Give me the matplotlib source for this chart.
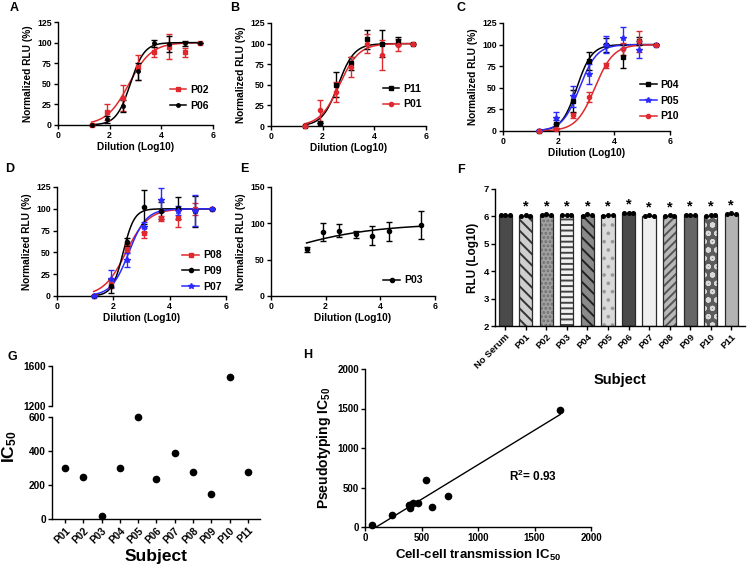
import numpy as np
import matplotlib
matplotlib.use("Agg")
import matplotlib.pyplot as plt
from matplotlib.lines import Line2D

plt.rcParams["font.family"] = ["Liberation Sans", "DejaVu Sans"]
plt.rcParams["font.weight"] = "bold"
plt.rcParams["axes.labelweight"] = "bold"
plt.rcParams["mathtext.fontset"] = "custom"
plt.rcParams["mathtext.rm"] = "Liberation Sans:bold"
plt.rcParams["mathtext.default"] = "rm"
plt.rcParams["hatch.linewidth"] = 1.4

RED = "#e0292e"
BLUE = "#2a2aff"
BLACK = "black"

# dilution steps (log10)
dil = [1.3, 1.9, 2.5, 3.1, 3.7, 4.3, 4.9, 5.5]

# A
p02_y = [0, 16, 33, 70, 89, 95, 88, 100]
p02_err = [0, 10, 16, 15, 6, 15, 6, 0]
p02_fit = (2.75, 1.0)
p06_y = [0, 7, 23, 65, 99, 98, 99, 100]
p06_err = [0, 4, 7, 10, 4, 10, 3, 0]
p06_fit = (2.8, 1.6)
# B
p11_y = [0, 4, 50, 76, 105, 100, 103, 100]
p11_err = [0, 0, 15, 8, 12, 16, 5, 0]
p11_fit = (2.6, 1.4)
p01_y = [0, 19, 41, 72, 100, 86, 98, 100]
p01_err = [0, 13, 12, 12, 12, 18, 7, 0]
p01_fit = (2.65, 1.15)
# C
p04_y = [0, 8, 35, 81, 100, 86, 104, 100]
p04_err = [0, 5, 13, 10, 8, 13, 5, 0]
p04_fit = (2.65, 1.6)
p05_y = [0, 15, 40, 66, 100, 108, 94, 100]
p05_err = [0, 7, 12, 12, 10, 12, 10, 0]
p05_fit = (2.75, 1.4)
p10_y = [0, 2, 18, 39, 76, 95, 104, 100]
p10_err = [0, 1, 3, 6, 3, 7, 12, 0]
p10_fit = (3.3, 1.3)
# D
p08_y = [0, 14, 54, 72, 89, 89, 100, 100]
p08_err = [0, 5, 4, 6, 3, 10, 7, 0]
p08_fit = (2.45, 1.1)
p09_y = [0, 12, 62, 102, 98, 101, 97, 100]
p09_err = [0, 8, 5, 19, 10, 13, 18, 0]
p09_fit = (2.35, 2.2)
p07_y = [0, 20, 41, 79, 110, 98, 98, 100]
p07_err = [0, 10, 8, 6, 14, 5, 18, 0]
p07_fit = (2.55, 1.4)
# E
p03_x = [1.3, 1.9, 2.5, 3.1, 3.7, 4.3, 5.5]
p03_y = [64, 88, 90, 85, 83, 89, 98]
p03_err = [3, 13, 9, 5, 13, 13, 19]
p03_fit = (-0.61, 0.226)

# F
f_labels = ["No Serum", "P01", "P02", "P03", "P04", "P05", "P06", "P07", "P08", "P09", "P10", "P11"]
f_reps = [[6.05, 6.06, 6.05], [6.02, 6.05, 6.02], [6.04, 6.08, 6.05], [6.05, 6.05, 6.05],
          [6.03, 6.08, 6.04], [6.01, 6.05, 6.04], [6.12, 6.13, 6.12], [6.0, 6.04, 6.01],
          [6.0, 6.06, 6.01], [6.05, 6.05, 6.05], [6.01, 6.04, 6.04], [6.08, 6.12, 6.08]]
f_star = [False] + [True] * 11

# G / H
subjects = ["P01", "P02", "P03", "P04", "P05", "P06", "P07", "P08", "P09", "P10", "P11"]
pseudo_ic50 = [299, 248, 20, 299, 598, 238, 390, 276, 146, 1487, 278]
cellcell_ic50 = [426, 595, 60, 470, 542, 399, 732, 393, 241, 1727, 400]

W, H = 747, 570
fig = plt.figure(figsize=(W / 100, H / 100), dpi=100)


def add_ax(l, t, r, b):
    return fig.add_axes([l / W, 1 - b / H, (r - l) / W, (b - t) / H])


def style(ax, size=6):
    ax.spines["top"].set_visible(False)
    ax.spines["right"].set_visible(False)
    for s in ("left", "bottom"):
        ax.spines[s].set_linewidth(1)
    ax.tick_params(width=1, length=3, labelsize=size, pad=1.5)


def sigmoid(x, logic, hill):
    return 100 / (1 + 10 ** ((logic - x) * hill))


def curve_panel(ax, series, ymax, yticks, leg_anchor):
    xs = np.linspace(1.3, 5.5, 200)
    handles = []
    for label, color, marker, ms, x, y, err, fit in series:
        ax.plot(xs, sigmoid(xs, *fit), color=color, lw=1.1)
        ax.errorbar(x, y, yerr=err, fmt=marker, color=color, ms=ms, capsize=2,
                    elinewidth=1, capthick=1, clip_on=False, zorder=3)
        handles.append(Line2D([], [], color=color, marker=marker, ms=ms, lw=1.1, label=label))
    ax.set_xlim(0, 6)
    ax.set_ylim(0, ymax)
    ax.set_xticks([0, 2, 4, 6])
    ax.set_yticks(yticks)
    style(ax, 6.3)
    ax.set_xlabel("Dilution (Log10)", fontsize=7.3, labelpad=1)
    ax.set_ylabel("Normalized RLU (%)", fontsize=7.3, labelpad=3)
    ax.legend(handles=handles, loc="lower right", bbox_to_anchor=leg_anchor, frameon=False,
              fontsize=7.5, handlelength=1.6, handletextpad=0.4, labelspacing=0.55,
              borderaxespad=0)


yt125 = [0, 25, 50, 75, 100, 125]

ax_a = add_ax(58, 22, 213, 125)
curve_panel(ax_a, [("P02", RED, "s", 3.5, dil, p02_y, p02_err, p02_fit),
                   ("P06", BLACK, "o", 2.5, dil, p06_y, p06_err, p06_fit)],
            125, yt125, (1.0, 0.1))

ax_b = add_ax(271, 23, 426, 126)
curve_panel(ax_b, [("P11", BLACK, "s", 3.5, dil, p11_y, p11_err, p11_fit),
                   ("P01", RED, "o", 3, dil, p01_y, p01_err, p01_fit)],
            125, yt125, (1.0, 0.12))

ax_c = add_ax(503, 23, 670, 131)
curve_panel(ax_c, [("P04", BLACK, "s", 3.5, dil, p04_y, p04_err, p04_fit),
                   ("P05", BLUE, "*", 4, dil, p05_y, p05_err, p05_fit),
                   ("P10", RED, "o", 3, dil, p10_y, p10_err, p10_fit)],
            125, yt125, (1.08, 0.05))

ax_d = add_ax(57, 187, 226, 296)
curve_panel(ax_d, [("P08", RED, "s", 3.5, dil, p08_y, p08_err, p08_fit),
                   ("P09", BLACK, "o", 3, dil, p09_y, p09_err, p09_fit),
                   ("P07", BLUE, "*", 4, dil, p07_y, p07_err, p07_fit)],
            125, yt125, (1.0, 0.0))

ax_e = add_ax(271, 187, 435, 296)
curve_panel(ax_e, [("P03", BLACK, "o", 3, p03_x, p03_y, p03_err, p03_fit)],
            150, [0, 50, 100, 150], (0.95, 0.06))

# F bar chart
ax_f = add_ax(495, 189, 745, 326)
f_fc = ["#4a4a4a", "#cfcfcf", "#a2a2a2", "#f0f0f0", "#8a8a8a", "#dadada",
        "#4a4a4a", "#efefef", "#b8b8b8", "#666666", "#5c5c5c", "#b3b3b3"]
f_hatch = ["", "\\\\\\", "....", "---", "\\\\\\", "..", "", "", "////", "", "oo", ""]
f_hc = ["#4a4a4a", "#333333", "#707070", "#444444", "#222222", "#999999",
        "#4a4a4a", "#efefef", "#555555", "#666666", "#d8d8d8", "#b3b3b3"]
xpos = np.arange(len(f_labels))
f_mean = [np.mean(r) for r in f_reps]
for i in xpos:
    ax_f.bar(i, f_mean[i] - 2, bottom=2, width=0.64, color=f_fc[i], hatch=f_hatch[i],
             edgecolor=f_hc[i], lw=0)
    ax_f.bar(i, f_mean[i] - 2, bottom=2, width=0.64, fill=False, edgecolor="#2a2a2a", lw=0.9)
    ax_f.plot(i + np.array([-0.22, 0, 0.22]), f_reps[i], "o", color="black", ms=2.6,
              clip_on=False, zorder=4)
    if f_star[i]:
        ax_f.text(i, f_mean[i] + 0.32, "*", ha="center", va="center", fontsize=10.5)
ax_f.set_xlim(-0.5, 11.67)
ax_f.set_ylim(2, 7)
ax_f.set_yticks([2, 3, 4, 5, 6, 7])
ax_f.set_xticks(xpos)
ax_f.set_xticklabels(f_labels, rotation=45, ha="right", rotation_mode="anchor")
style(ax_f, 6.8)
ax_f.set_ylabel("RLU (Log10)", fontsize=8.5, labelpad=3)
ax_f.set_xlabel("Subject", fontsize=10.5, labelpad=2)

# G broken axis
gx = np.arange(len(subjects))
ax_gt = add_ax(52, 366, 260, 406)
ax_gb = add_ax(52, 417, 260, 519)
hi = [v >= 1200 for v in pseudo_ic50]
ax_gt.plot(gx[hi], np.array(pseudo_ic50)[hi], "o", color="black", ms=4.5, clip_on=False)
lo = [not h for h in hi]
ax_gb.plot(gx[lo], np.array(pseudo_ic50)[lo], "o", color="black", ms=4.5, clip_on=False)
for ax in (ax_gt, ax_gb):
    ax.set_xlim(-0.71, 10.66)
    style(ax, 7.3)
ax_gt.set_ylim(1200, 1600)
ax_gt.set_yticks([1200, 1600])
ax_gt.spines["bottom"].set_visible(False)
ax_gt.tick_params(axis="x", bottom=False, labelbottom=False)
ax_gb.set_ylim(0, 600)
ax_gb.set_yticks([0, 200, 400, 600])
ax_gb.set_xticks(gx)
ax_gb.set_xticklabels(subjects, rotation=45, ha="right", rotation_mode="anchor")
ax_gb.set_xlabel("Subject", fontsize=12.5, labelpad=3)
fig.text(10 / W, 1 - 447 / H, r"IC$_{50}$", rotation=90, ha="center", va="center", fontsize=12.5)

# H correlation
ax_h = add_ax(365, 369, 591, 527)
ax_h.plot(cellcell_ic50, pseudo_ic50, "o", color="black", ms=4.5, clip_on=False, zorder=3)
k, b0 = np.polyfit(cellcell_ic50, pseudo_ic50, 1)
lx = np.array([min(cellcell_ic50), max(cellcell_ic50)])
ax_h.plot(lx, k * lx + b0, color="black", lw=1)
ax_h.set_xlim(0, 2000)
ax_h.set_ylim(0, 2000)
ax_h.set_xticks([0, 500, 1000, 1500, 2000])
ax_h.set_yticks([0, 500, 1000, 1500, 2000])
style(ax_h, 7)
ax_h.set_xlabel(r"Cell-cell transmission IC$_{50}$", fontsize=9.5, labelpad=3)
ax_h.set_ylabel(r"Pseudotyping IC$_{50}$", fontsize=10, labelpad=3)
ax_h.text(1270, 580, r"R$^{2}$= 0.93", fontsize=8.5)

# panel letters
for lab, x, y in [("A", 10, 8), ("B", 230, 8), ("C", 457, 8), ("D", 5, 169), ("E", 240, 169),
                  ("F", 457, 170), ("G", 7, 357), ("H", 303, 355)]:
    fig.text(x / W, 1 - y / H, lab, fontsize=9, ha="left", va="center")

fig.savefig("out.png", dpi=100)
